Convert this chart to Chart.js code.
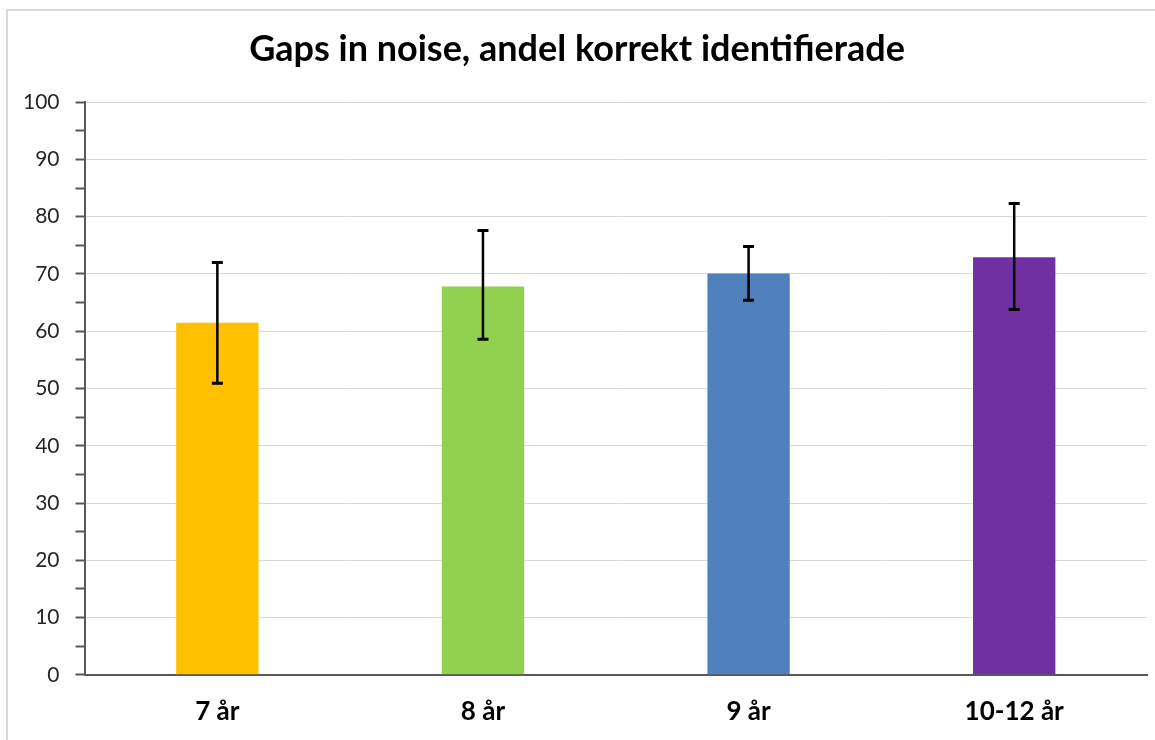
<!DOCTYPE html>
<html>
<head>
<meta charset="utf-8">
<script src="https://cdn.jsdelivr.net/npm/chart.js@4"></script>
<style>
  body { margin: 0; background: #fff; }
  #wrap { position: relative; width: 1155px; height: 740px; }
  #frame { position: absolute; left: 6px; top: 9px; right: 0; bottom: 0;
           border-top: 2px solid #d9d9d9; border-left: 2px solid #d9d9d9; }
  canvas { position: absolute; left: 0; top: 0; }
</style>
</head>
<body>
<div id="wrap">
  <div id="frame"></div>
  <canvas id="chart" width="1155" height="740"></canvas>
</div>
<script>
const labels = ["7 år", "8 år", "9 år", "10-12 år"];
const values = [61.5, 67.8, 70.1, 72.9];
const errLow = [50.9, 58.6, 65.4, 63.8];
const errHigh = [72.0, 77.6, 74.8, 82.3];
const colors = ["#FFC000", "#92D050", "#4F81BD", "#7030A0"];

// whiskers drawn on top of the bars
const errorBars = {
  id: "errorBars",
  afterDatasetsDraw(chart) {
    const ctx = chart.ctx;
    const y = chart.scales.y;
    const meta = chart.getDatasetMeta(0);
    ctx.save();
    ctx.strokeStyle = "#000";
    meta.data.forEach(function (bar, i) {
      const top = y.getPixelForValue(errHigh[i]);
      const bot = y.getPixelForValue(errLow[i]);
      ctx.lineWidth = 2.5;
      ctx.beginPath();
      ctx.moveTo(bar.x, top);
      ctx.lineTo(bar.x, bot);
      ctx.stroke();
      ctx.lineWidth = 3;
      ctx.beginPath();
      ctx.moveTo(bar.x - 5.5, top);
      ctx.lineTo(bar.x + 5.5, top);
      ctx.moveTo(bar.x - 5.5, bot);
      ctx.lineTo(bar.x + 5.5, bot);
      ctx.stroke();
    });
    ctx.restore();
  }
};

new Chart(document.getElementById("chart"), {
  type: "bar",
  data: {
    labels: labels,
    datasets: [{
      data: values,
      backgroundColor: colors,
      categoryPercentage: 1,
      barPercentage: 0.31
    }]
  },
  options: {
    responsive: false,
    animation: false,
    layout: { padding: { left: 7, right: 8, top: 0, bottom: 0 } },
    plugins: {
      legend: { display: false },
      tooltip: { enabled: false },
      title: {
        display: true,
        text: "Gaps in noise, andel korrekt identifierade",
        color: "#000",
        font: { family: "Lato", size: 36, weight: "bold" },
        padding: { top: 28, bottom: 31 }
      }
    },
    scales: {
      x: {
        grid: { display: false },
        border: { color: "#595959", width: 2 },
        ticks: {
          color: "#000",
          padding: 13,
          font: { family: "Lato", size: 26, weight: "bold" }
        }
      },
      y: {
        min: 0,
        max: 100,
        border: { color: "#595959", width: 2 },
        grid: {
          color: function (c) { return c.tick && c.tick.value % 10 === 0 ? "#d9d9d9" : "rgba(0,0,0,0)"; },
          tickColor: "#595959",
          tickLength: 9,
          lineWidth: 1,
          tickWidth: 2
        },
        ticks: {
          stepSize: 5,
          color: "#262626",
          padding: 16,
          font: { family: "Lato", size: 21 },
          callback: function (v) { return v % 10 === 0 ? v : ""; }
        }
      }
    }
  },
  plugins: [errorBars]
});
</script>
</body>
</html>
